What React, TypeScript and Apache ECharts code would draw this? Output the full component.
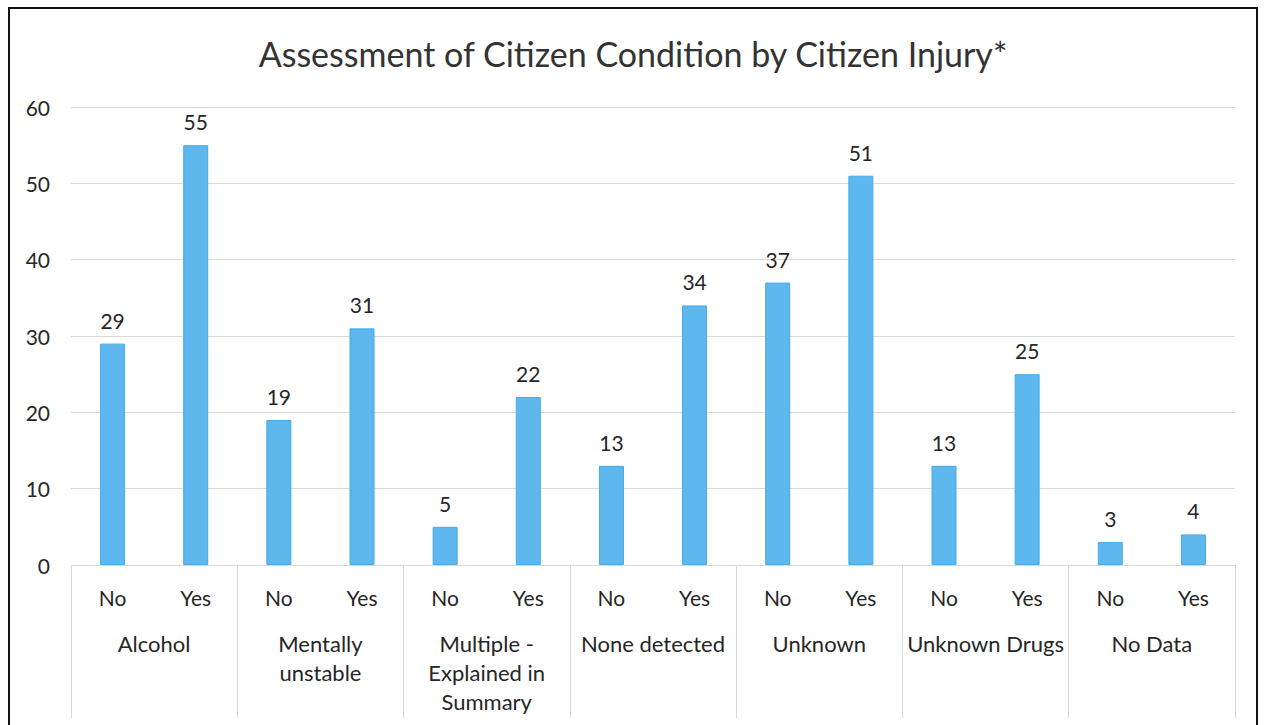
import React, { useEffect, useRef } from "react";
import * as echarts from "echarts";

const title = "Assessment of Citizen Condition by Citizen Injury*";
const groups = [
  "Alcohol",
  "Mentally\nunstable",
  "Multiple -\nExplained in\nSummary",
  "None detected",
  "Unknown",
  "Unknown Drugs",
  "No Data",
];
const injury = ["No", "Yes"];
const noValues = [29, 19, 5, 13, 37, 13, 3];
const yesValues = [55, 31, 22, 34, 51, 25, 4];
const yTicks = { min: 0, max: 60, interval: 10 };

export default function App() {
  const ref = useRef<HTMLDivElement>(null);
  useEffect(() => {
    if (!ref.current) return;
    const chart = echarts.init(ref.current, undefined, { renderer: "svg" });
    const subCats: string[] = [];
    const values: number[] = [];
    groups.forEach((_, i) => {
      subCats.push(injury[0], injury[1]);
      values.push(noValues[i], yesValues[i]);
    });
    const font = "Lato, 'Open Sans', sans-serif";
    chart.setOption({
      animation: false,
      textStyle: { fontFamily: font },
      title: {
        text: title,
        left: "center",
        top: 31,
        textStyle: { fontSize: 34, fontWeight: "normal", color: "#333333", fontFamily: font },
      },
      graphic: [
        {
          type: "rect",
          shape: { x: 9, y: 8, width: 1248, height: 730 },
          style: { fill: "none", stroke: "#111", lineWidth: 2 },
          silent: true,
        },
      ],
      grid: { left: 71, right: 31, top: 107, bottom: 160 },
      xAxis: [
        {
          type: "category",
          data: subCats,
          position: "bottom",
          axisLine: { show: true, lineStyle: { color: "#d9d9d9", width: 1 } },
          axisTick: { show: false },
          axisLabel: { interval: 0, margin: 22, fontSize: 21, color: "#262626", fontFamily: font },
          splitLine: { show: false },
        },
        {
          type: "category",
          data: groups,
          position: "bottom",
          axisLine: { show: false },
          axisTick: { show: true, length: 153, lineStyle: { color: "#d9d9d9", width: 1 } },
          axisLabel: {
            interval: 0,
            margin: 64,
            fontSize: 22,
            lineHeight: 29,
            color: "#262626",
            fontFamily: font,
            verticalAlign: "top",
          },
          splitLine: { show: false },
        },
      ],
      yAxis: {
        type: "value",
        min: yTicks.min,
        max: yTicks.max,
        interval: yTicks.interval,
        axisLine: { show: false },
        axisTick: { show: false },
        axisLabel: { fontSize: 21, color: "#262626", margin: 21, fontFamily: font },
        splitLine: { lineStyle: { color: "#d9d9d9", width: 1 } },
      },
      series: [
        {
          type: "bar",
          xAxisIndex: 0,
          data: values,
          barWidth: 25,
          itemStyle: { color: "#5EB8EE", borderColor: "#45AAE6", borderWidth: 1 },
          label: {
            show: true,
            position: "top",
            distance: 13,
            fontSize: 21,
            color: "#262626",
            fontFamily: font,
          },
        },
      ],
    });
    return () => chart.dispose();
  }, []);
  return (
    <div
      ref={ref}
      style={{ position: "fixed", left: 0, top: 0, width: 1266, height: 725, background: "#fff" }}
    />
  );
}
